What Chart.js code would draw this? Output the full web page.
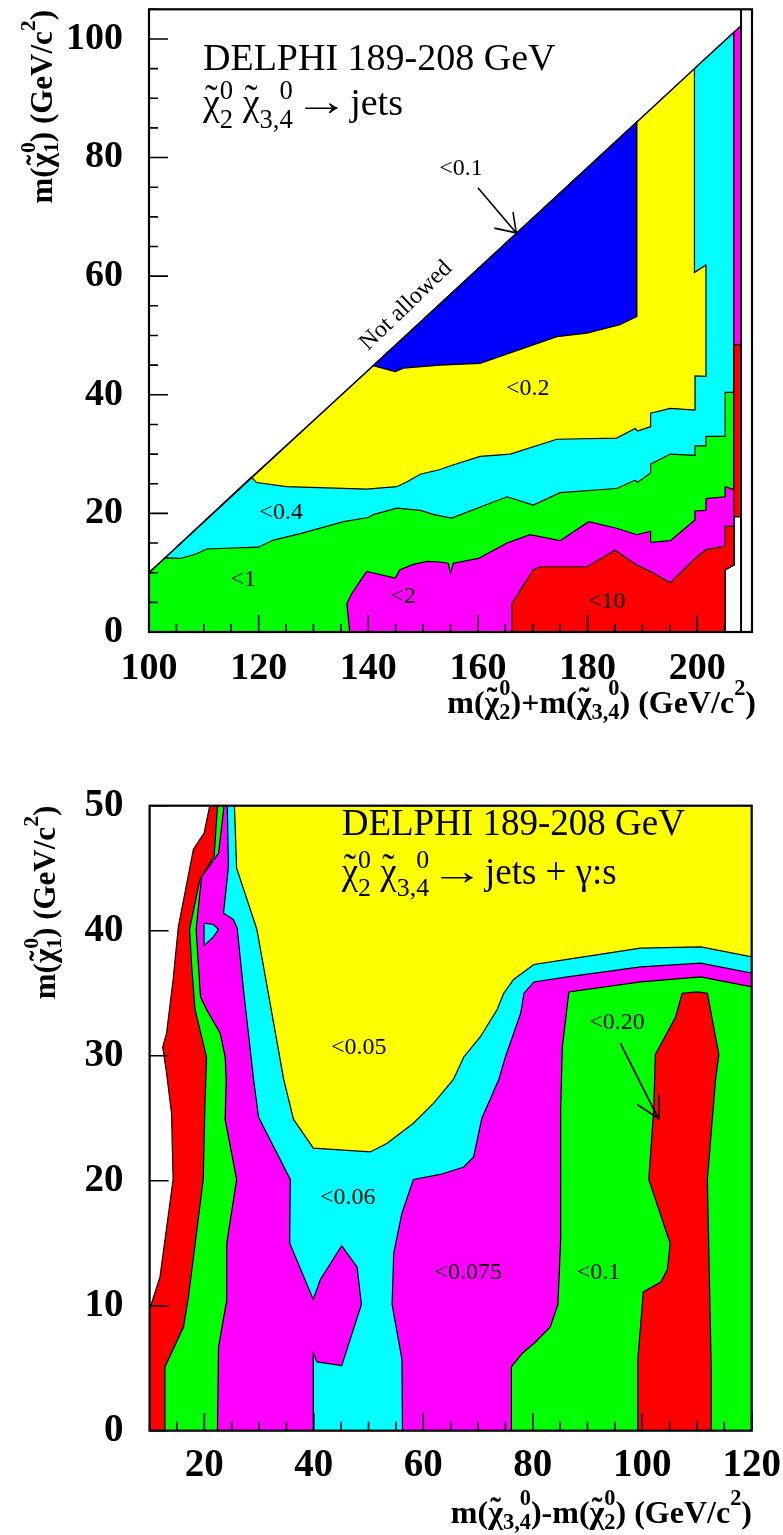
<!DOCTYPE html>
<html><head><meta charset="utf-8">
<script src="https://cdn.jsdelivr.net/npm/chart.js@4/dist/chart.umd.min.js"></script>
<style>
html,body{margin:0;padding:0;background:#fff;}
canvas{position:absolute;left:0;}
#c1{top:0;}
#c2{top:760px;}
</style></head><body>
<canvas id="c1" width="783" height="745" style="width:783px;height:745px"></canvas>
<canvas id="c2" width="783" height="775" style="width:783px;height:775px"></canvas>
<script>
const FONT = '"Liberation Serif", "Times New Roman", serif';

// ================= TOP PANEL: x = m(chi2)+m(chi34), y = m(chi1) =================
const topXTicks = [100, 120, 140, 160, 180, 200];
const topYTicks = [0, 20, 40, 60, 80, 100];
// regions "value >= level" (painted in order), contour boundaries
const topYellow = [[100,0],[100,10],[118.7,26.1],[140.9,44.9],[189,86.0],[199.5,95.0],[206.7,101.1],[206.7,11.3],[205.1,10.5],[205.1,0]];
const topCyan = [[100,0],[100,10],[118.7,26.1],[119.6,25.2],[125.1,24.5],[139.7,24.1],[145.2,24.5],[147.0,25.3],[149.5,26.6],[153.1,27.4],[154.9,28.0],[160.4,29.6],[165.9,30.0],[174.4,32.5],[185.3,32.7],[188.7,34.3],[189.1,33.9],[191.4,34.6],[191.5,36.9],[195.1,37.7],[199.6,37.4],[199.6,43.2],[201.6,43.1],[201.6,61.9],[199.5,60.6],[199.5,95.0],[206.7,101.1],[206.7,11.3],[205.1,10.5],[205.1,0]];
const topGreen = [[100,0],[100,10],[102.9,12.5],[105.7,12.4],[108.7,13.2],[110.5,14.0],[119.9,14.3],[122.7,15.5],[127.6,16.6],[135.5,18.6],[140.0,19.3],[140.9,19.8],[145.2,20.9],[149.5,20.5],[152.0,19.8],[155.2,19.2],[165.3,22.8],[170.1,21.4],[175.0,23.5],[185.3,24.2],[188.7,25.6],[189.1,25.2],[191.5,26.8],[191.5,28.3],[195.1,30.0],[199.6,29.8],[199.6,31.4],[201.6,31.4],[201.6,33.0],[205.1,33.0],[205.1,40.4],[206.7,40.4],[206.7,11.3],[205.1,10.5],[205.1,0]];
const topMagenta = [[136.6,0],[136.1,4.8],[137.0,6.5],[139.7,10.2],[144.9,9.1],[145.8,10.5],[148.2,11.4],[150.7,11.9],[153.0,11.8],[154.6,11.6],[155.0,9.9],[155.5,11.6],[160.1,12.4],[165.3,15.0],[169.5,16.4],[175.0,15.4],[180.2,18.6],[185.3,17.5],[189.0,16.4],[191.5,17.0],[191.5,15.1],[195.1,15.4],[199.6,18.9],[199.6,20.4],[201.6,20.5],[201.6,22.5],[205.1,22.8],[205.1,24.5],[206.7,24.0],[206.7,11.3],[205.1,10.5],[205.1,0]];
const topRed = [[166.2,0],[166.2,4.8],[170.1,10.5],[171.4,11.0],[179.9,11.0],[185.0,13.8],[189.0,11.3],[191.5,10.2],[195.1,8.3],[199.6,12.4],[201.6,13.9],[205.1,14.5],[205.1,17.8],[206.7,17.8],[206.7,11.3],[205.1,10.5],[205.1,0]];
const topBlue = [[140.9,44.9],[144.9,43.9],[146.4,44.5],[153.0,45.0],[160.4,45.3],[174.4,49.8],[179.9,50.4],[185.9,51.8],[189.0,53.2],[189.0,86.0]];
const topStripMagenta = [[206.7,48.4],[208,48.4],[208,102.2],[207.7,102],[206.7,101.1]];
const topStripRed = [[206.7,19.4],[208,19.4],[208,48.4],[206.7,48.4]];
const topLimitLine = [[208,0],[208,105]];
const topDiagonal = [[100,10],[207.7,102]];
const topArrow = [[160.0,74.9],[167.0,67.3],[163.0,68.1],[167.0,67.3],[166.4,70.8]];
const topLabels = [
  {text:'<0.1', x:156.9, y:78.1}, {text:'<0.2', x:169.1, y:41.0}, {text:'<0.4', x:124.1, y:20.2},
  {text:'<1', x:117.2, y:8.9}, {text:'<2', x:146.4, y:5.9}, {text:'<10', x:183.5, y:5.1}
];
const topNotAllowed = {text:'Not allowed', x:146.9, y:55.0};

// ================= BOTTOM PANEL: x = m(chi34)-m(chi2), y = m(chi1) =================
const botXTicks = [20, 40, 60, 80, 100, 120];
const botYTicks = [0, 10, 20, 30, 40, 50];
const botRed = [[10,0],[10,9.7],[11.9,12.3],[14.3,20.1],[14.0,25.4],[13.1,28.6],[12.4,30.7],[13.1,31.8],[14.3,36.1],[15.25,40.3],[18.0,46.5],[19.95,47.8],[21.0,50],[120,50],[120,0]];
const botGreen = [[12.8,0],[12.8,5.1],[16.2,8.3],[17.1,10.7],[19.8,20.1],[20.1,25.9],[20.4,29.9],[18.3,33.7],[17.7,37.1],[17.3,40.1],[19.2,44.1],[21.8,46.0],[22.4,50],[120,50],[120,0]];
const botMagenta = [[22.4,0],[22.6,6.7],[24.0,10.2],[24.1,15.0],[25.9,20.1],[23.8,24.9],[24.0,28.1],[23.8,29.9],[22.9,31.8],[20.4,33.7],[19.3,34.7],[18.5,40.1],[19.5,44.3],[22.6,46.2],[23.6,50],[120,50],[120,35.5],[110.7,36.3],[99.7,35.9],[86.6,35.1],[85.4,30.7],[85.1,25.7],[85.1,15.3],[84.6,10.1],[83.2,8.3],[80.5,7.1],[78.1,6.2],[76.1,5.1],[76.1,0]];
const botCyan = [[24.2,50],[24.4,45.1],[23.5,41.4],[25.3,40.9],[26.0,40.2],[27.1,35.5],[29.0,28.1],[29.9,25.1],[35.7,20.1],[35.6,15.0],[39.9,10.5],[41.2,12.1],[45.1,14.8],[47.9,13.1],[48.7,10.1],[45.1,5.2],[40.6,5.5],[39.9,6.2],[39.9,0],[56.2,0],[56.1,5.7],[54.3,10.1],[54.6,14.2],[56.1,17.4],[58.2,20.1],[63.1,20.5],[67.4,21.1],[69.2,21.9],[70.7,25.0],[73.8,28.1],[75.0,29.9],[77.8,33.4],[78.4,35.0],[80.2,35.9],[86.3,36.3],[99.7,37.1],[110.7,37.4],[120,36.6],[120,50]];
const botYellow = [[25.5,50],[25.9,45.0],[29.6,40.1],[34.5,28.1],[36.3,24.9],[39.9,22.6],[50.3,22.3],[53.4,23.0],[58.2,24.6],[61.9,26.2],[65.5,28.1],[67.4,29.9],[70.4,31.5],[73.5,33.7],[74.7,35.0],[76.5,36.1],[80.2,37.3],[86.3,37.7],[99.7,38.6],[110.7,38.7],[120,37.9],[120,50]];
const botRedIsland = [[99.2,0],[99.2,5.7],[100.2,11.1],[103.4,11.9],[104.6,12.9],[105.1,15.0],[101.2,20.1],[102.1,25.7],[102.4,30.1],[106.1,33.1],[107.3,35.0],[110.1,35.1],[111.9,35.0],[114.0,30.1],[113.4,28.1],[111.9,20.1],[112.6,5.1],[112.6,0]];
const botCyanIsland = [[19.95,40.6],[21.65,40.5],[22.6,40.1],[21.65,39.5],[19.95,38.8]];
const botArrow = [[96.0,31.0],[102.9,25.0],[99.1,26.1],[102.9,25.0],[103.05,26.9]];
const botLabels = [
  {text:'<0.05', x:48.2, y:30.6}, {text:'<0.06', x:46.2, y:18.6}, {text:'<0.075', x:68.2, y:12.6},
  {text:'<0.1', x:92.0, y:12.6}, {text:'<0.20', x:95.4, y:32.6}
];

// ================= helpers =================
const toXY = arr => arr.map(([x, y]) => ({x, y}));
function polygon(pts, color) {
  const d = toXY(pts); d.push({...d[0]});
  return {data: d, showLine: true, fill: 'shape', backgroundColor: color, borderColor: '#000',
          borderWidth: 1.2, pointRadius: 0, tension: 0, borderJoinStyle: 'miter'};
}
function polyline(pts, w) {
  return {data: toXY(pts), showLine: true, fill: false, borderColor: '#000', backgroundColor: '#000',
          borderWidth: w, pointRadius: 0, tension: 0};
}
function ordered(list) { const n = list.length; list.forEach((d, i) => d.order = n - i); return list; }

function fontStr(size, bold) { return `${bold ? 'bold ' : ''}${size}px ${FONT}`; }
function richLayout(ctx, segs, o) {
  let w = 0; const items = []; const sc = o.scale || 0.7;
  for (const s of segs) {
    if (s.t !== undefined) {
      ctx.font = fontStr(o.size, o.bold);
      const sx = s.sx || 1, pre = (s.pad || 0) * o.size;
      items.push({k: 't', x: w + pre, t: s.t, sx, sy: s.sy || 1, dy: s.dy || 0});
      w += pre * 2 + ctx.measureText(s.t).width * sx;
    } else {
      let bw = 0;
      if (s.c) {
        ctx.font = fontStr(o.size, o.bold); bw = ctx.measureText(s.c).width;
        items.push({k: 't', x: w, t: s.c, sx: 1, sy: 1, dy: 0});
        if (s.tilde) items.push({k: 'tilde', x: w, w: bw});
      }
      ctx.font = fontStr(o.size * sc, o.bold);
      const subW = s.sub ? ctx.measureText(s.sub).width : 0;
      const supW = s.sup ? ctx.measureText(s.sup).width : 0;
      const sx = w + bw + (o.scriptGap || 0) * o.size;
      if (s.sub) items.push({k: 'sub', x: sx, t: s.sub});
      if (s.sup) items.push({k: 'sup', x: sx + Math.max(0, subW - supW), t: s.sup});
      w = sx + Math.max(subW, supW);
    }
  }
  return {w, items};
}
function drawRich(ctx, x, y, segs, o) {
  const L = richLayout(ctx, segs, o);
  const x0 = o.align === 'right' ? x - L.w : x;
  const sc = o.scale || 0.7;
  ctx.textBaseline = 'alphabetic';
  for (const it of L.items) {
    if (it.k === 't') {
      ctx.font = fontStr(o.size, o.bold); ctx.textAlign = 'left';
      ctx.save(); ctx.translate(x0 + it.x, y + it.dy * o.size); ctx.scale(it.sx, it.sy); ctx.fillText(it.t, 0, 0); ctx.restore();
    }
    else if (it.k === 'sub') { ctx.font = fontStr(o.size * sc, o.bold); ctx.textAlign = 'left'; ctx.fillText(it.t, x0 + it.x, y + o.subDy * o.size); }
    else if (it.k === 'sup') { ctx.font = fontStr(o.size * sc, o.bold); ctx.textAlign = 'left'; ctx.fillText(it.t, x0 + it.x, y - o.supDy * o.size); }
    else if (it.k === 'tilde') { ctx.font = fontStr(o.size, o.bold); ctx.textAlign = 'center'; ctx.fillText('\u02DC', x0 + it.x + it.w / 2, y - (o.tildeDy || 0.08) * o.size); }
  }
  return L.w;
}
function drawRotatedRich(ctx, xBase, yEnd, segs, o) {
  ctx.save(); ctx.translate(xBase, yEnd); ctx.rotate(-Math.PI / 2);
  drawRich(ctx, 0, 0, segs, Object.assign({}, o, {align: 'right'}));
  ctx.restore();
}

function axisCfg(min, max, tickList, size, pad, fit) {
  return {
    type: 'linear', min, max,
    afterBuildTicks: s => { s.ticks = tickList.map(v => ({value: v})); },
    ticks: {font: {family: FONT, size, weight: 'bold'}, color: '#000', padding: pad, maxRotation: 0, autoSkip: false},
    grid: {display: false, drawTicks: false},
    border: {display: false},
    afterFit: s => { fit(s); s.paddingLeft = 0; s.paddingRight = 0; s.paddingTop = 0; s.paddingBottom = 0; }
  };
}

function frameAndTicks(chart, o) {
  const {ctx, chartArea: a, scales: {x, y}} = chart;
  ctx.save(); ctx.strokeStyle = '#000'; ctx.lineWidth = 1.6; ctx.beginPath();
  for (let v = x.min; v <= x.max + 1e-6; v += o.xMinor) {
    const px = x.getPixelForValue(v); const L = o.xTicks.includes(v) ? o.xMaj : o.xMin;
    ctx.moveTo(px, a.bottom); ctx.lineTo(px, a.bottom - L);
  }
  for (let v = y.min; v <= y.max + 1e-6; v += o.yMinor) {
    const py = y.getPixelForValue(v); const L = o.yTicks.includes(v) ? o.yMaj : o.yMin;
    ctx.moveTo(a.left, py); ctx.lineTo(a.left + L, py);
  }
  ctx.stroke();
  ctx.lineWidth = 2.2; ctx.strokeRect(a.left, a.top, a.right - a.left, a.bottom - a.top);
  ctx.restore();
}

const chi = (sub) => ({c: '\u03C7', tilde: true, sup: '0', sub});
const ARROW = {t: '\u2192', sx: 1.45, sy: 1.05, pad: 0.03};

// ================= TOP CHART =================
new Chart(document.getElementById('c1'), {
  type: 'scatter',
  data: {datasets: ordered([
    polygon(topYellow, '#ffff00'),
    polygon(topCyan, '#00ffff'),
    polygon(topGreen, '#00ff00'),
    polygon(topMagenta, '#ff00ff'),
    polygon(topRed, '#ff0000'),
    polygon(topBlue, '#0000ff'),
    polygon(topStripMagenta, '#ff00ff'),
    polygon(topStripRed, '#ff0000'),
    polyline(topLimitLine, 2),
    polyline(topDiagonal, 1.2),
    polyline(topArrow, 1.6)
  ])},
  options: {
    responsive: false, animation: false, events: [],
    layout: {padding: {left: 0, top: 9.3, right: 31, bottom: 0}},
    plugins: {legend: {display: false}, tooltip: {enabled: false}},
    scales: {
      x: axisCfg(100, 210, topXTicks, 38, 14, s => { s.height = 113; }),
      y: axisCfg(0, 105, topYTicks, 38, 26, s => { s.width = 149; })
    }
  },
  plugins: [{
    id: 'topDeco',
    afterDatasetsDraw(chart) {
      frameAndTicks(chart, {xTicks: topXTicks, yTicks: topYTicks, xMinor: 5, yMinor: 5, xMaj: 17, xMin: 8, yMaj: 19, yMin: 9});
      const {ctx, scales: {x, y}} = chart;
      ctx.save(); ctx.fillStyle = '#000';
      ctx.font = fontStr(24, false); ctx.textAlign = 'center'; ctx.textBaseline = 'middle';
      topLabels.forEach(l => ctx.fillText(l.text, x.getPixelForValue(l.x), y.getPixelForValue(l.y)));
      ctx.save();
      ctx.translate(x.getPixelForValue(topNotAllowed.x), y.getPixelForValue(topNotAllowed.y));
      ctx.rotate(-44 * Math.PI / 180);
      ctx.font = fontStr(24, false); ctx.fillText(topNotAllowed.text, 0, 0);
      ctx.restore();
      drawRich(ctx, 203, 70, [{t: 'DELPHI 189-208 GeV'}], {size: 38});
      drawRich(ctx, 203, 115, [chi('2'), {t: ' '}, chi('3,4'), ARROW, {t: 'jets'}], {size: 38, subDy: 0.33, supDy: 0.42, tildeDy: 0.1});
      drawRich(ctx, 756, 713, [{t: 'm('}, chi('2'), {t: ')+m('}, chi('3,4'), {t: ') (GeV/c'}, {sup: '2'}, {t: ')'}],
        {size: 32, bold: true, align: 'right', subDy: 0.18, supDy: 0.55, tildeDy: 0.12});
      drawRotatedRich(ctx, 52, 10, [{t: 'm('}, chi('1'), {t: ') (GeV/c'}, {sup: '2'}, {t: ')'}],
        {size: 31, bold: true, subDy: 0.18, supDy: 0.55, tildeDy: 0.12});
      ctx.restore();
    }
  }]
});

// ================= BOTTOM CHART =================
new Chart(document.getElementById('c2'), {
  type: 'scatter',
  data: {datasets: ordered([
    polygon(botRed, '#ff0000'),
    polygon(botGreen, '#00ff00'),
    polygon(botMagenta, '#ff00ff'),
    polygon(botCyan, '#00ffff'),
    polygon(botYellow, '#ffff00'),
    polygon(botRedIsland, '#ff0000'),
    polygon(botCyanIsland, '#00ffff'),
    polyline(botArrow, 1.8)
  ])},
  options: {
    responsive: false, animation: false, events: [],
    layout: {padding: {left: 0, top: 45.7, right: 31.3, bottom: 0}},
    plugins: {legend: {display: false}, tooltip: {enabled: false}},
    scales: {
      x: axisCfg(10, 120, botXTicks, 39, 12, s => { s.height = 104.3; }),
      y: axisCfg(0, 50, botYTicks, 39, 26, s => { s.width = 149.6; })
    }
  },
  plugins: [{
    id: 'botDeco',
    afterDatasetsDraw(chart) {
      frameAndTicks(chart, {xTicks: botXTicks, yTicks: botYTicks, xMinor: 5, yMinor: 10, xMaj: 17.7, xMin: 9, yMaj: 19, yMin: 19});
      const {ctx, scales: {x, y}} = chart;
      ctx.save(); ctx.fillStyle = '#000';
      ctx.font = fontStr(24, false); ctx.textAlign = 'center'; ctx.textBaseline = 'middle';
      botLabels.forEach(l => ctx.fillText(l.text, x.getPixelForValue(l.x), y.getPixelForValue(l.y)));
      drawRich(ctx, 341.7, 75, [{t: 'DELPHI 189-208 GeV'}], {size: 37});
      drawRich(ctx, 341.7, 124, [chi('2'), {t: ' '}, chi('3,4'), ARROW, {t: 'jets + \u03B3:s'}], {size: 37, subDy: 0.33, supDy: 0.42, tildeDy: 0.1});
      drawRich(ctx, 752, 763, [{t: 'm('}, chi('3,4'), {t: ')-m('}, chi('2'), {t: ') (GeV/c'}, {sup: '2'}, {t: ')'}],
        {size: 32, bold: true, align: 'right', subDy: 0.18, supDy: 0.55, tildeDy: 0.12});
      drawRotatedRich(ctx, 55, 45.7, [{t: 'm('}, chi('1'), {t: ') (GeV/c'}, {sup: '2'}, {t: ')'}],
        {size: 31, bold: true, subDy: 0.18, supDy: 0.55, tildeDy: 0.12});
      ctx.restore();
    }
  }]
});
</script></body></html>
